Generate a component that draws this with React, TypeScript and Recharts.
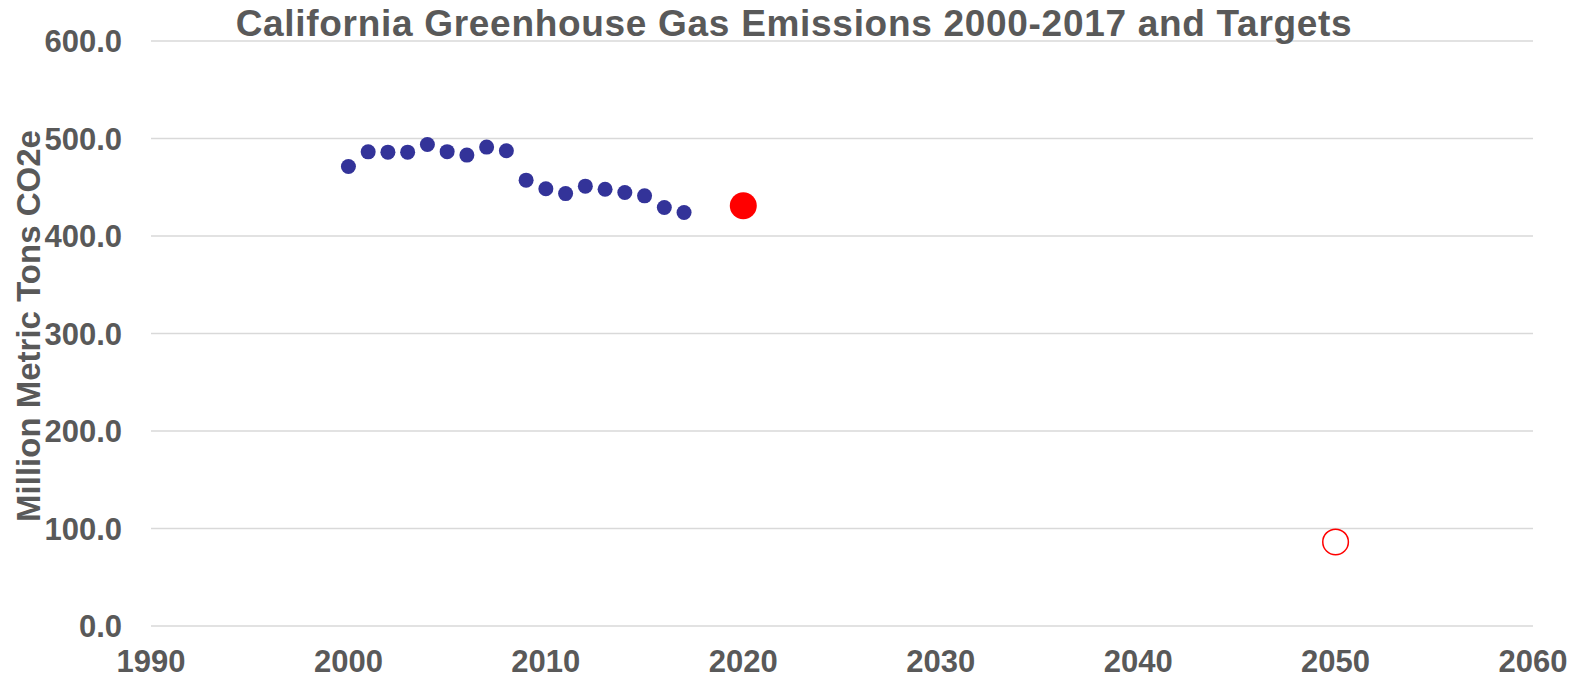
import { ScatterChart, Scatter, XAxis, YAxis, CartesianGrid, Label } from "recharts";

// Statewide inventory, million metric tons CO2e
const inventoryYears = [2000, 2001, 2002, 2003, 2004, 2005, 2006, 2007, 2008, 2009, 2010, 2011, 2012, 2013, 2014, 2015, 2016, 2017];
const inventoryValues = [471.3, 486.3, 486.0, 486.0, 493.9, 486.5, 483.0, 491.2, 487.4, 457.3, 448.4, 443.5, 451.1, 448.0, 444.6, 441.2, 429.2, 424.1];

// Targets: 1990 level by 2020, 80% below 1990 by 2050
const target2020 = [{ year: 2020, value: 431 }];
const target2050 = [{ year: 2050, value: 86.2 }];

const xTicks = [1990, 2000, 2010, 2020, 2030, 2040, 2050, 2060];
const yTicks = [0, 100, 200, 300, 400, 500, 600];

const font = "'Liberation Sans', Arial, sans-serif";
const textColor = "#595959";
const tickStyle = { fontSize: 31, fontWeight: 700, fill: textColor, fontFamily: font };

const inventory = inventoryYears.map((year, i) => ({ year, value: inventoryValues[i] }));

const dot = (r: number, fill: string, stroke = "none", strokeWidth = 0) => (props: any) =>
  <circle cx={props.cx} cy={props.cy} r={r} fill={fill} stroke={stroke} strokeWidth={strokeWidth} />;

export default function App() {
  return (
    <div style={{ position: "absolute", left: 0, top: 0, width: 1579, height: 679, background: "#fff" }}>
      <div
        style={{
          position: "absolute", left: 0, top: 5, width: 1588, textAlign: "center",
          fontFamily: font, fontWeight: 700, fontSize: 37, lineHeight: "37px", letterSpacing: 0.7,
          color: textColor, zIndex: 1, whiteSpace: "nowrap",
        }}
      >
        California Greenhouse Gas Emissions 2000-2017 and Targets
      </div>
      <ScatterChart width={1579} height={679} margin={{ top: 41, right: 46, bottom: 0, left: 0 }}>
        <CartesianGrid horizontal vertical={false} stroke="#D9D9D9" strokeWidth={1.5} />
        <XAxis
          type="number" dataKey="year" domain={[1990, 2060]} ticks={xTicks}
          axisLine={false} tickLine={false} tickSize={0} tickMargin={24} height={53}
          tick={tickStyle} interval={0}
        />
        <YAxis
          type="number" dataKey="value" domain={[0, 600]} ticks={yTicks}
          axisLine={false} tickLine={false} tickSize={0} tickMargin={29} width={151}
          tick={tickStyle} interval={0} tickFormatter={(v: number) => v.toFixed(1)}
        >
          <Label
            content={() => (
              <text
                x={40} y={326} transform="rotate(-90 40 326)" textAnchor="middle"
                style={{ fontSize: 33, fontWeight: 700, fill: textColor, fontFamily: font }}
              >
                Million Metric Tons CO2e
              </text>
            )}
          />
        </YAxis>
        <Scatter data={inventory} shape={dot(7.5, "#333399")} isAnimationActive={false} />
        <Scatter data={target2020} shape={dot(13.5, "#FF0000")} isAnimationActive={false} />
        <Scatter data={target2050} shape={dot(12.8, "#fff", "#FF0000", 1.5)} isAnimationActive={false} />
      </ScatterChart>
    </div>
  );
}
